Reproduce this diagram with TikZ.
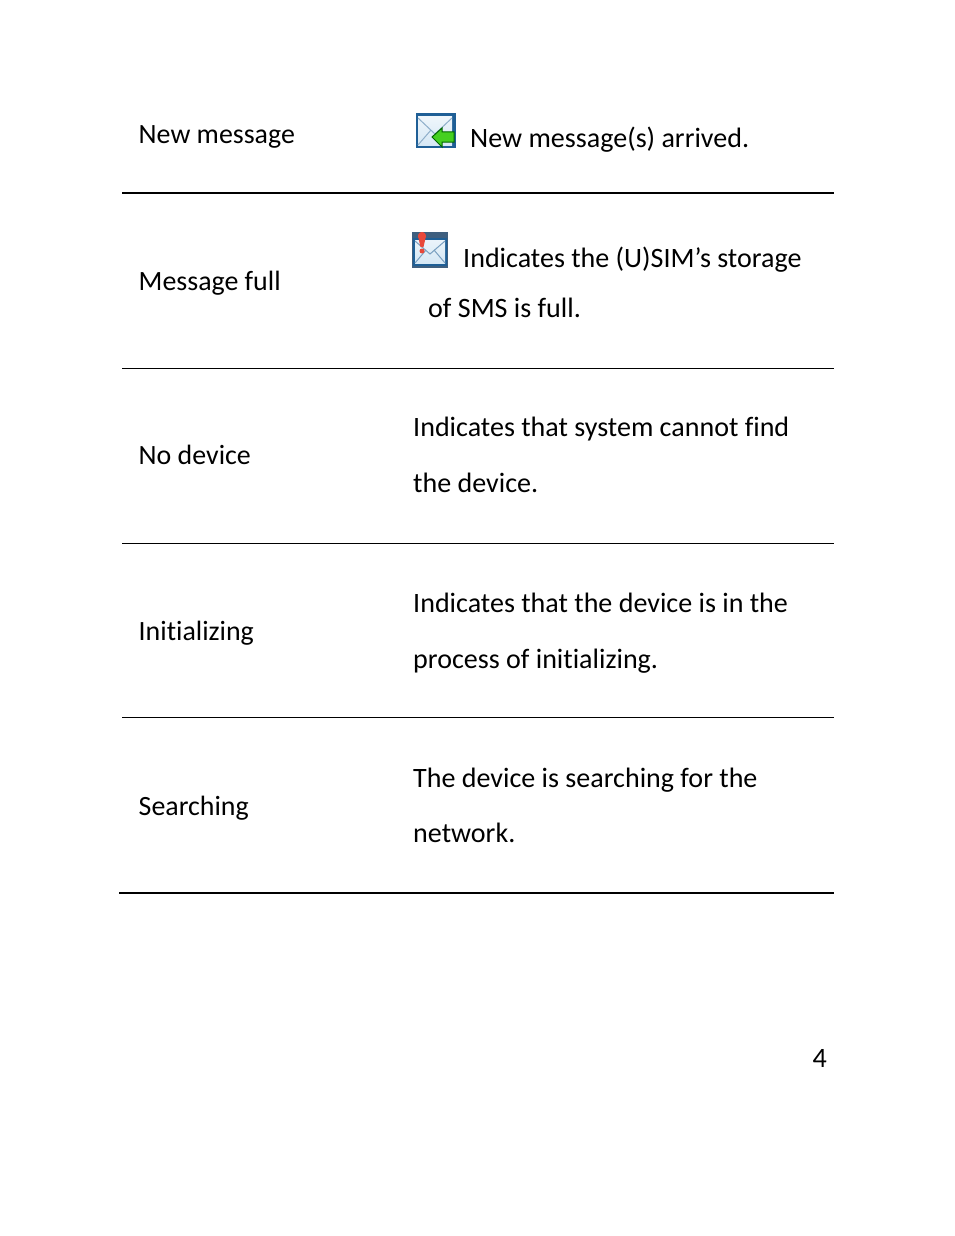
\documentclass[tikz,border=0pt]{standalone}
\usepackage{fontspec}
\setmainfont[Ligatures=NoCommon]{Carlito}
\definecolor{iconblue}{HTML}{1F5F96}
\definecolor{iconslate}{HTML}{3F5F7F}
\definecolor{iconpale}{HTML}{D6E8F5}
\definecolor{icongreen}{HTML}{45D020}
\definecolor{iconred}{HTML}{E8483A}
\tikzset{
  rowname/.style={anchor=base west,font=\fontsize{27.9}{32}\selectfont,inner sep=0pt},
  rowtext/.style={anchor=base west,font=\fontsize{28.05}{32}\selectfont,inner sep=0pt},
  thinrule/.style={line width=0.6pt},
  thickrule/.style={line width=1.2pt}
}
\begin{document}
\begin{tikzpicture}[x=1pt,y=-1pt]
\useasboundingbox (0,0) rectangle (954,1236);
% table rows
\node[rowname] (n1) at (138.5,143) {New message};
\node[rowname] (n2) at (138.5,290) {Message full};
\node[rowname] (n3) at (138.5,464) {No device};
\node[rowname] (n4) at (138.5,640) {Initializing};
\node[rowname] (n5) at (138.5,815) {Searching};
\node[rowtext] (t1) at (470,147) {New message(s) arrived.};
\node[rowtext] (t2) at (463,267) {Indicates the (U)SIM’s storage};
\node[rowtext] (t2b) at (428,317) {of SMS is full.};
\node[rowtext] (t3) at (413,436) {Indicates that system cannot find};
\node[rowtext] (t3b) at (413,492) {the device.};
\node[rowtext] (t4) at (413,612) {Indicates that the device is in the};
\node[rowtext] (t4b) at (413,668) {process of initializing.};
\node[rowtext] (t5) at (413,787) {The device is searching for the};
\node[rowtext] (t5b) at (413,842) {network.};
\node[rowtext] (page) at (812.5,1067) {4};
% rules
\draw[thickrule] (122,193) -- (834,193);
\draw[thinrule] (122,368.5) -- (834,368.5);
\draw[thinrule] (122,543.5) -- (834,543.5);
\draw[thinrule] (122,717.5) -- (834,717.5);
\draw[thickrule] (119,893) -- (834,893);
% icons
\fill[iconblue] (416,113) rectangle (456,148);
\shade[top color=iconpale!40,bottom color=iconpale] (418,117) rectangle (452,145);
\draw[iconblue!50,line width=1pt] (418,118) -- (435,134) -- (452,118);
\draw[iconblue!50,line width=1pt] (418,145) -- (431,130);
\fill[icongreen,draw=green!40!black,line width=1pt] (432,137) -- (442,128) -- (442,132) -- (454,132) -- (454,142) -- (442,142) -- (442,147) -- cycle;
\fill[iconslate] (412,232) rectangle (448,268);
\fill[iconblue] (413,238) rectangle (447,266);
\shade[top color=iconpale!50,bottom color=iconpale] (415,240) rectangle (445,263);
\draw[iconblue!60,line width=1pt] (415,241) -- (430,254) -- (445,241);
\draw[iconblue!60,line width=1pt] (415,263) -- (426,250);
\draw[iconblue!60,line width=1pt] (445,263) -- (434,250);
\fill[iconred] (418,236) arc[start angle=180,end angle=360,radius=4] -- (423.5,247) -- (420.5,247) -- cycle;
\fill[iconred] (422,236) circle (4);
\fill[iconred] (422,251) circle (2.5);
\end{tikzpicture}
\end{document}
